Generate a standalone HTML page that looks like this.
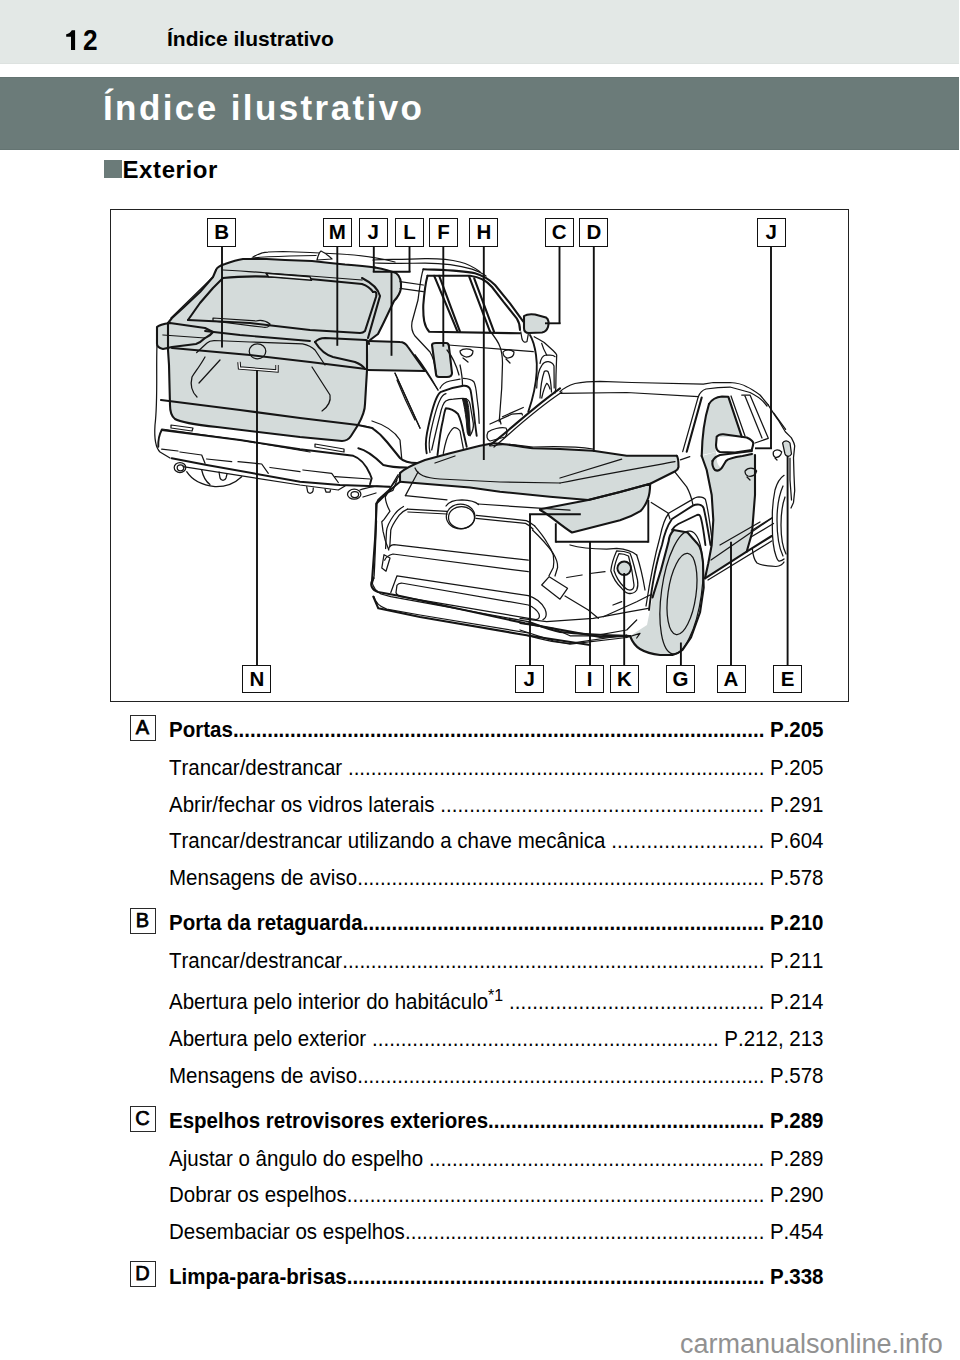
<!DOCTYPE html>
<html><head><meta charset="utf-8">
<style>
*{margin:0;padding:0;box-sizing:border-box}
html,body{width:960px;height:1360px;background:#fff;overflow:hidden}
body{position:relative;font-family:"Liberation Sans",sans-serif;color:#000;font-kerning:none}
.abs{position:absolute;white-space:nowrap}
#hbar{position:absolute;left:0;top:0;width:959px;height:64px;background:#e3e8e6;border-bottom:1px solid #dde2e0}
#pnum{left:83.2px;top:24.3px;font-size:29.8px;font-weight:bold;line-height:32px;transform:scaleX(0.88);transform-origin:0 0}
#htitle{left:167px;top:26.5px;font-size:21px;font-weight:bold;line-height:24px}
#tbar{position:absolute;left:0;top:77px;width:959px;height:73px;background:#6b7b79;border-top:1px solid #647472;border-bottom:1px solid #647472}
#title{left:103px;top:87.5px;font-size:35px;font-weight:bold;color:#fff;letter-spacing:2.4px;line-height:40px}
#sq{position:absolute;left:104px;top:160px;width:18px;height:18px;background:#6b7b79}
#ext{left:122.5px;top:156px;font-size:24px;font-weight:bold;line-height:28px;letter-spacing:0.6px}
#box{position:absolute;left:110px;top:209px;width:739px;height:493px;border:1.4px solid #222}
.lb{position:absolute;width:29px;height:28.8px;border:1.8px solid #111;background:#fff;font-weight:bold;font-size:20.5px;line-height:26.4px;text-align:center}
.sl{position:absolute;left:129.5px;width:26px;height:26px;border:1.3px solid #2a2a2a;font-size:20px;line-height:23.5px;text-align:center;font-weight:normal;-webkit-text-stroke:0.75px #000}
.row{position:absolute;left:169px;width:654.5px;display:flex;font-size:20.5px;line-height:24px;white-space:nowrap}
.row .t{flex:none}
.row .d{flex:1 1 auto;overflow:hidden;text-align:right}
.row .p{flex:none;padding-left:5.56px}
.row.b{font-weight:bold}
.row{transform:scaleY(1.06);transform-origin:0 19.1px}
sup{font-size:16px;line-height:0;vertical-align:8px}
#wm{left:680px;top:1327.5px;font-size:27px;color:#919191;line-height:32px}
</style></head><body>
<div id="hbar"></div>
<svg style="position:absolute;left:0;top:0" width="100" height="60" viewBox="0 0 100 60"><path d="M66.2,34.3 C68.5,33.6 70.5,32.6 71.8,30.2 L75.1,30.2 L75.1,50 L71,50 L71,36.7 L66.2,36.7 Z" fill="#000"/></svg>
<div class="abs" id="pnum">2</div>
<div class="abs" id="htitle">Índice ilustrativo</div>
<div id="tbar"></div>
<div class="abs" id="title">Índice ilustrativo</div>
<div id="sq"></div>
<div class="abs" id="ext">Exterior</div>
<div id="box"></div>
<!--CAR-->
<svg id="car" style="position:absolute;left:0;top:0" width="960" height="720" viewBox="0 0 960 720">
<!-- REAR CAR grey fills -->
<g fill="#d4dbda" stroke="none">
<!-- tailgate + glass + spoiler -->
<path d="M216,270 C217,267 220,265.5 225,264 C232,261.5 238,259.8 243,259 L266.7,259 L285,260 L312,261 L345,264.5 C358,265.5 368,266.5 375,267.5 C385,269.5 392,271.5 396,273 L399,277 C402,285 399,292 394,301 L383,324 C379,332 376,336 372,340 L367,341 L368,370 L365,410 L358,425 L350,438 L342,441 L300,437 L217,427 L180,422 L172,415 L170,405 L169,350 L160,349 L157,344 L156,328 L168,323 L183,308 L200,292 L213,277 Z"/>
<!-- side taillight -->
<path d="M369,341 L400,342 L405,343 C410,350 416,358 425,371 L367,370 Z"/>
<!-- fuel door -->
<path d="M432,345 C432,343 434,343 436,343 L446,343 C448,343 449,345 449,347 L452,373 C452,376 450,377 447,377 L439,377 C437,377 436,376 436,374 Z"/>
</g>
<g fill="none" stroke="#151515" stroke-linejoin="round" stroke-linecap="round">
<!-- thick outlines -->
<g stroke-width="2.1">
<path d="M216,270 C217,267 220,265.5 225,264 C232,261.5 238,259.8 243,259 L266.7,259 L285,260 L312,261 L330,263 L345,264.5 C358,265.5 368,266.5 375,267.5"/>
<path d="M216,270 L213,277 L200,292 L183,308 L172,318 L168,323"/>
<path d="M223,278 C240,276 260,276 280,277 L310,279 L362,284 C368,286 371,289 373,292"/>
<path d="M223,278 L213,288 L200,303 L188,320"/>
<path d="M188,320 L250,323 L310,330 L360,333 C363,333 364,332 365,331 L376,297 C377,293 376,291 373,292"/>
<path d="M168,323 L168,350 L169,365 L170,405 C170,412 171,416 175,419 C180,422 190,424 217,427 L300,437 L342,441 C346,441 349,439 351,436 L358,425 C363,416 365,410 365,404 L367,370 L367,341"/>
<path d="M161,400 L240,410 L300,418 L358,425 L372,428 C378,432 383,437 387,442 L400,458 C404,462 410,463 417,463"/>
<!-- left taillight -->
<path d="M157,327 C159,325 163,324 170,323 L205,328 L213,332 C210,336 207,337 205,338 C202,341 199,343 196,344 L172,347 L163,349 C159,348 157,346 157,344 Z"/>
<path d="M205,331 L240,335 L310,341" stroke-width="1.9"/>
<path d="M172,348 L250,355 L310,362 L366,369"/>
<!-- right taillight M -->
<path d="M315,342 C318,339 321,338 325,338 L366,340 C368,341 369,342 369,344"/>
<path d="M315,342 C320,350 326,355 333,357 L355,362 C360,364 363,366 365,369"/>
<path d="M369,341 L400,342 C404,342 406,344 408,347 L425,371 L367,370"/>
<!-- D pillar right boundary -->
<path d="M375,267.5 C385,269.5 392,271.5 396,273 C400,276 401.5,281 401,288 C400,294 398,297 394,301 L383,324 L378,334 L370,340"/>
<path d="M362,278 C372,283 378,288 380,296 L368,338"/>
</g>
<g stroke-width="1.25">
<path d="M253,257 C258,254 262,252 268,252 L283,251.5 L310,252.5 L340,254 C360,255 375,257 395,262"/>
<path d="M223,270 C240,271 255,272 267,273 L310,276 L362,280"/>
<path d="M252,258 C262,257 275,256.5 290,256 L316,255.5"/>
<path d="M196.7,352.5 L207,343 C209,341 211,340.5 214,340.5 L250,342 L302.5,343.8 C308,345 312,347 315,350 L325,365"/>
<path d="M163,335 L205,338"/>
<path d="M171,318 L213,277"/>
<path d="M157,345 C156,370 158,400 155,425 C154,440 156,448 160,452 L170,458"/>
<path d="M205,357 C200,366 195,372 192,377 C190,385 192,392 197,397"/>
<path d="M220,360 L199,383"/>
<path d="M312,367 L330,395 C331,401 329,406 322,411"/>
<path d="M395,373 L420,428"/>
<path d="M415,355 L438,390"/>
<path d="M162,429 L240,440 L310,452"/>
<path d="M171,425 L193,428 L192,431 L171,428 Z"/>
<path d="M315,444 L344,449 L344,452 L315,447 Z"/>
</g>
<path d="M266,273.3 L310,276.8 L311.5,280.2 L268.5,276.8 Z" fill="#eef1f0" stroke-width="1.5"/>
<!-- emblem -->
<ellipse cx="257.5" cy="351.3" rx="8.3" ry="7.5" stroke-width="1.25"/>
<!-- wiper -->
<path d="M213,318 L256,321 C260,320 266,321 270,324 C270,327 266,328 262,327 L213,321 Z" stroke-width="1.25"/>
<!-- antenna -->
<path d="M317,260 C318,256 319,252 321,251 C325,253 329,256 332,259 Z" fill="#fff" stroke-width="1.25"/>
</g>
<!-- license bracket -->
<path d="M239,362 L239.5,368 L277,371 L277,365" fill="none" stroke="#111" stroke-width="3.4"/>
<path d="M239,362 L239.5,368 L277,371 L277,365" fill="none" stroke="#fff" stroke-width="1.4"/>
<!-- REAR CAR SIDE (white body) -->
<g fill="#d4dbda" stroke="none">
<!-- mirror of rear car -->
<path d="M524,316 C527,314 531,314 535,314.5 L546,317.5 C549,319 549,324 548,327 C547,330 545,332 542,332.5 L529,333 C526,333 524,331 524,328 Z"/>
</g>
<g fill="none" stroke="#151515" stroke-linejoin="round" stroke-linecap="round">
<g stroke-width="1.25">
<!-- roof rails -->
<path d="M373,260 C385,259 400,260 425,258.7 C440,258.5 450,259.5 460,262 C468,264 475,268 480,271.7"/>
<path d="M375,263 C390,263.5 400,264 425,263 C445,263 460,265.5 472,269.2 C477,271 482,273 486,276"/>
<!-- spoiler side extension lines -->
<path d="M400,281.7 L423.3,285"/>
<path d="M400,288.3 L423.3,291.7"/>
<!-- outer window frame left -->
<path d="M423.3,269.2 C421,275 420,285 418,300 L412,322 C411,328 412,332 415,336 L430,352 C433,357 435,365 436,372"/>
<!-- character line -->
<path d="M448.3,345 L533.3,351.7"/>
<!-- rear door rear edge -->
<path d="M447,350 C452,356 456,364 459,375"/>
<!-- rear door front edge -->
<path d="M490,331 C494,336 498,341 500,346.7 C502,352 502.5,358 502.5,363.3 L501.7,388.3 L499.2,421.7"/>
<!-- body line lower rear -->
<path d="M395,373.3 L420,428.3"/>
<path d="M415,355 C423,365 430,376 438,390"/>
<!-- rear wheel arch of rear car -->
<path d="M440,388.3 C442,384 445,382 450,381 L460,379.2"/>
<path d="M463.3,378.3 C468,378.5 472,379.5 474,382 C476,386 476.5,393 477,398 L478.5,410 L479.2,423.3"/>
<path d="M426.7,453.3 C425.5,447 425.5,441 427,433 C430,418 433,405 437,397 C439,393 440.5,392 441.7,391.7 C448,389 455,387 463.3,385.8 C467,385.5 469.5,387 470.5,390 C472,397 473.5,410 475,423 L476.7,435.8" stroke-width="1.9"/>
<path d="M430,452.5 C428.5,446 429,440 430.5,433 C433.5,419 436.5,407 440,400 C441.5,396.5 443,394.5 446,393.6"/>
<path d="M431.7,450 C434,440 437,427 440,415 C441.5,408 443,403 445.8,401 C448,399.7 451,399.3 453.3,399.2 C458,398.6 462,398.2 465,398.5 C468,399 469.5,401 470,404 L473.3,423.3 C473.8,428 472.5,432 470,435.8"/>
<path d="M437.5,455 C439,442 441,428 443,420 C444,414 445,410 445.8,408.3 C450,408.5 454,410 458,414 C460,418 462,425 463.3,431.7 L466.7,446.7" stroke-width="1.9"/>
<path d="M443.3,453.3 C445,444 447,436 450,432 C452,429 453,428 454.2,427.5 C456.5,427.5 458.5,428.5 460,431 L463.3,448.3"/>
<path d="M462.5,399 C464.3,406 465.3,413 466.2,420 L467.2,432 C467.5,434 468.2,435.5 469,436 C470,435.5 470.3,434 470.2,432 L469,412 C468.5,405 467.5,401 466.5,398.8 Z" fill="#1a1a1a" stroke-width="1"/>
<path d="M460,365 C461.5,372 462.5,379 462.5,385.8"/>
<!-- rear car front fender / wheel -->
<path d="M530,335 C533,340 535,348 536,355 C537,362 537,367 536.7,371.7 C536,385 533,398 528.3,411.7" stroke-width="1.9"/>
<path d="M534.2,336.7 C538,339 541,340.5 544.2,342.5 L553.3,350.8 C555,352.5 556,353.5 556.7,355 L556,375 L555.8,388.3 L555,393"/>
<path d="M540,363.3 C541,358 543,355.5 546,355 L550,355 C552,355 554,355.5 555,356.7"/>
<path d="M536.7,388 C537,377 539,369 542,365 C544,362 546,361.5 548.3,361.7 C551,362 553,363.5 554,366 L554.2,388"/>
<path d="M540,398 C540.5,388 542,378 544.2,371.7 C545,370.5 547,370.5 548,371.5 C550,376 551,382 551.5,392"/>
<path d="M541.7,398 C543,392 544.5,387 546.7,383.3 C548,384 549,386 550,389"/>
<path d="M541.7,343.3 C543,348 545,352 546.7,355"/>
<path d="M520.8,332 L522,339 C523,342 525,343 527,341.5 L528.3,334"/>
<!-- rear car sill -->
<path d="M502.5,416.7 L523.3,407.5"/>
<path d="M490,424 L511.7,414.2 L521.7,413.3 L522.5,415"/>
<path d="M500,420 L501,424"/>
<!-- door handles -->
<path d="M460,351 C463,348 470,348 473,351 C473,355 470,357 466,357 C462,356 460,354 460,351 Z M463,358 L468,362"/>
<path d="M503,352 C505,349 511,349 514,352 C514,356 511,358 507,358 C504,357 503,355 503,352 Z M506,359 L510,363"/>
</g>
<g stroke-width="2.1">
<!-- window frame top -->
<path d="M423.3,269.2 C440,270 460,270 475,273.3 C484,276 490,280 495,285 L510,303.3 L523.3,321.7"/>
<!-- windows -->
<path d="M427.5,275.8 L470,275.8 C480,277 487,281 492,287 L503.3,301.7 L516.7,318.3 C519,322 520,326 520,330"/>
<path d="M427.5,275.8 C425,285 424,296 423.3,305 C423,318 424,326 429.2,331.7 L520,333.3"/>
<path d="M434.2,275.8 L457.5,331.7"/>
<path d="M439.2,275.8 L460,331.7"/>
<path d="M469.2,276.7 L490,331.7"/>
<path d="M474.2,278.3 L494,331.7"/>
<!-- mirror outline -->
<path d="M524,316 C527,314 531,314 535,314.5 L546,317.5 C549,319 549,324 548,327 C547,330 545,332 542,332.5 L529,333 C526,333 524,331 524,328 Z"/>
<!-- fuel door -->
<path d="M432,345 C432,343 434,343 436,343 L446,343 C448,343 449,345 449,347 L452,373 C452,376 450,377 447,377 L439,377 C437,377 436,376 436,374 Z"/>
</g>
</g>

<!-- FRONT CAR -->
<g fill="#d4dbda" stroke="none">
<!-- hood -->
<path d="M400,473 C405,468 412,465 425,460 L450,453.3 L480,445.8 L493,443.3 L533,448.3 L560,449 L593,450.8 L626.7,455.8 L676.7,455.8 C678,457 678.5,460 678.5,467 C678,469.5 677,470.5 675.2,471.3 L650.2,483.8 L620,492 L588.3,500 L550,496.7 L500,491.7 L470,487.5 L400,481.7 Z"/>
<!-- headlight -->
<path d="M540,509.2 L588.3,500 L620,492 L650.2,483.8 C650,490 649.5,495 648.1,498.3 C646,504 643.5,508 640.8,510.8 C634,515 627,518 620,520.2 L572,532.5 C560,525 550,515 540,510 Z"/>
<!-- front door window -->
<path d="M709,404 C712,399 716,397 722,396.5 L728.3,396.7 L741.7,436.7 L717,437 C715,440 715,447 716,452 L701.7,455 C702,440 704,420 709,404 Z"/>
<!-- front door panel + rocker -->
<path d="M701.7,456 L716,452 L717,462 C720,470 724,470 727,460 L740,457 L752,452 L755,455 L755,470 L755,495 L752,533 L746.7,551.7 L708.3,576 L705,578.3 L708,563 L711.7,545 L713.3,520 L711.7,495 L706.7,470 Z"/>
<!-- tire -->
<path d="M630,636 C632,641 635,646 640,649 C645,652 650,654 660,655 L672.5,655 C677,654 680,652 682.5,650 L691,637.5 L700,612.5 L703.7,587.5 L703,562.5 C702,552 700,546 697.5,543.7 L687.5,532.5 L673.7,530 C671,533 669,537 668.7,541 L661,570 L652.5,597.5 L650,610 L647,625 Z"/>
<!-- fog light -->
<circle cx="624.2" cy="568.3" r="6.6"/>
<!-- E small light -->
<path d="M782.6,443 C784,440 788,440 790,443 L791.5,454 C790,457 786,457 785,454 Z"/>
</g>
<g fill="none" stroke="#151515" stroke-linejoin="round" stroke-linecap="round">
<g stroke-width="2.1">
<!-- hood outline -->
<path d="M400,481.7 L400,473 C405,468 412,465 425,460 L450,453.3 L480,445.8 L493,443.3"/>
<path d="M400,481.7 L470,487.5 L500,491.7 L550,496.7 L588.3,500 L620,492 L650.2,483.8 L675.2,471.3 C677,470.5 678,469.5 678.5,467 C678.5,460 678,457 676.7,455.8"/>
<path d="M493,443.3 C510,444 520,447 533,448.3 L560,449 L593,450.8 L626.7,455.8 L676.7,455.8"/>
<!-- headlight -->
<path d="M540,509.2 L588.3,500 L620,492 L650.2,483.8 C650,490 649.5,495 648.1,498.3 C646,504 643.5,508 640.8,510.8 C634,515 627,518 620,520.2 L572,532.5 C560,525 550,515 540,510 Z"/>
<!-- windshield / A pillars -->
<path d="M490,445 C510,430 530,410 560,388.3"/>
<path d="M686.7,451.7 L701.7,397.5"/>
<!-- front door -->
<path d="M709,404 C712,399 716,397 722,396.5 L728.3,396.7 L741.7,436.7"/>
<path d="M701.7,456 C702,440 704,420 709,404"/>
<path d="M701.7,456 L706.7,470 L711.7,495 L713.3,520 L711.7,545 L708.3,563.3 L705,578.3"/>
<path d="M755,455 L755,495 L752,533 L746.7,551.7"/>
<path d="M705,578.3 L746.7,551.7 L771.7,536"/>
<!-- mirror front car -->
<path d="M716.7,436.7 C718,435 720,434 723.3,434.2 L746.7,437.5 C750,439 753,441 753.3,443.3 C753,446 752,449 751.7,450 L735,452.5 L720,452 C717,451 716,448 716,445 Z"/>
<path d="M712.5,461 C712,465 713,468 715,470 C718,471.5 721,470 723,466 L726,461 C728,458.5 732,457.5 742.5,456 L752,454"/>
<path d="M712.5,461 C714,458 717,456 720,455 L752,451"/>
<!-- tire outline -->
<path d="M630,636 C632,641 635,646 640,649 C645,652 650,654 660,655 L672.5,655 C677,654 680,652 682.5,650 L691,637.5 L700,612.5 L703.7,587.5 L703,562.5 C702,552 700,546 697.5,543.7 L687.5,532.5 L673.7,530 C671,533 669,537 668.7,541 L661,570 L652.5,597.5"/>
<!-- front bumper left & lower -->
<path d="M376.7,503.3 C385,495 392,488 400,481.7"/>
<path d="M376.7,503.3 L375,540 L372,581"/>
<path d="M372,581 C370,585 372,590 378,592 L400,596 L525,623.3 L600,637 L630,636"/>
<path d="M373.3,596.7 L378.3,608.3 L420,617 L525,635 L590,645"/>
<!-- emblem -->
</g>
<g stroke-width="1.25">
<!-- roof front car -->
<path d="M560,391.7 C565,387 570,385 575,383.5 C585,381.5 593,381.3 600,381.3 L631.7,382.5 L703.3,384.2 L713.3,382.5 L730,382.5 C738,383 743,384.5 746.7,386.7 C752,389 756,392 760,395 L768.3,405"/>
<path d="M560,393.3 L626.7,392.5 L698.3,396.7"/>
<path d="M698.3,396.7 C700,392 703,390 706,389 C712,388 720,387 730,387 L750,392.5 C755,395 760,398 763.3,401.7 L767,406"/>
<path d="M682.7,451.7 L698.3,396.7"/>
<path d="M494,447 C512,432 532,412 562,392"/>
<!-- hood creases -->
<path d="M560,478 L621.7,459.2"/>
<path d="M560,483 C600,475 640,468 675,461.7"/>
<path d="M415,468 C418,475 425,478 440,479 L500,482 L560,483"/>
<path d="M435,463 L455,456"/>
<!-- wiper area -->
<path d="M490,446 C510,442 520,446 533,447 C560,446 580,447 593,449"/>
<!-- far mirror -->
<path d="M488,432 C492,429 500,427 506,428 C508,431 507,435 505,437 L490,441 C487,440 486,436 488,432 Z"/>
<!-- grille -->
<path d="M405.4,495.6 L447,499.8"/>
<path d="M478.3,504 L570,510.2"/>
<path d="M407.5,509.2 L447,511.3"/>
<path d="M476.3,515.4 L526.3,520.6 C530,522 532,524 534.6,525.8"/>
<path d="M408,512 L447,514"/>
<path d="M476,518.4 L525.5,523.4 C529,525 531,527 533,529"/>
<path d="M407.5,509.2 C403,511 401,513 399,515.4 C395,521 392,525 390.8,530 L389.8,546.7"/>
<path d="M403.5,506.5 C399,509 396,512 394,515 C389,522 387,526 386.5,531 L385.6,548.5"/>
<path d="M534.6,525.8 C540,532 544,537 547,542.5 C550,547 552,551 553.3,555 C554,560 554,564 553.3,567.5 L549,575.8"/>
<path d="M532.5,530 C540,537 548,546 553,553 C556,558 558,563 557.6,567.5 L555,576"/>
<path d="M388.8,548.8 C389,546.5 391,545 394,544.6 L528.3,560.2"/>
<path d="M384.6,560.2 C386,557 389,555 393,554 L528.3,571.7"/>
<path d="M390.8,592.5 L397,575.8 L528.3,595.6 C536,598 542,603 545,609 C547,614 546,618 543,619.6"/>
<path d="M396,592.5 L397,585.2 C398,583.5 399.5,583 401.3,583 L528.3,605 C533,607 537,610 539,614 C540,617 539,619 536,619.6 L401,596.7 C398,596 396.5,594.5 396,592.5"/>
<path d="M372,582 C373,587 376,591 381,594 L390.8,596.7 L528.3,621.7"/>
<path d="M374,596.7 C375,602 378,606 386.7,609.2 L420,615 L528.3,633"/>
<path d="M418,472 L405.4,495.6"/>
<path d="M372,582 L374.2,578"/>
<path d="M378.3,500.8 C381,496 388,492 393,490.4 L397,480"/>
<path d="M400.6,473.5 L395.9,480.6 L391.2,486.5 L385.3,497 C385.5,501 386.5,505 390,511.2 L384.1,519.4 L381.8,521.8 L383,531.2 L385.3,540.6 L388.8,550"/>
<path d="M384,554.7 L390,558 L386,571.2 L381.8,568 Z"/>
<path d="M446,506 C449,501.5 455,499.8 462,499.8 C470,500 476,502 478.5,504.5"/>
<ellipse cx="460.6" cy="516.5" rx="14.3" ry="12.3"/>
<ellipse cx="461.5" cy="517.5" rx="13" ry="11"/>
<!-- right bumper / fog -->
<!-- right bumper new -->
<path d="M541.7,585 L549.2,576.7 L567.5,588.3 L560,599.2 Z"/>
<path d="M565,596 L588.3,610 L598.3,618.3"/>
<path d="M566.7,577.5 L582,575"/>
<path d="M590,573.5 L605,571.7"/>
<path d="M570,545 C580,548 590,549 606.7,549.2 L616.7,548.3 C625,549 632,551 636.7,555"/>
<path d="M616.7,550.8 C614,557 611.5,564 610.8,570.8 C613,578 617,584 621.7,588.3 C624,591 626,593 628.3,593.3 C632,594 635,592.5 636.7,590 C638,587 638,583 637.5,580 C635,570 633,560 630,553.3 C626,551.5 621,550.8 616.7,550.8 Z"/>
<path d="M619,553.5 C616.5,559 614.5,565 614,570.5 C616,577 620,583 624,587 C626,589 628,590 630,590 C632.5,590 634,588 634,585 C633,575 631,565 628.5,556 C625.5,554.3 622,553.5 619,553.5 Z"/>
<path d="M636.7,555 C640,565 643,578 645,590"/>
<path d="M603.3,616.7 L636.7,601.7 L650,595"/>
<path d="M613,605 L621.7,601.7"/>
<path d="M520,618.3 L546.7,621.7 L593.3,618.3 L630,611.7 L648.3,608.3"/>
<path d="M520,623.3 L553.3,628.3 L570,635.8 L593.3,635.8 L626.7,630 L636.7,620"/>
<path d="M520,630 L553.3,640.8 L570,644.2 L626.7,637.5"/>
<path d="M626.7,637.5 L640,633.3 L636.7,638"/>
<!-- wheel arch front -->
<path d="M646,606 C650,580 655,555 660,537 C662,527 665,518 669,513 L690.8,500.4 C694,498 697,496.8 699,496.8 C702.5,497 704.5,498 705.4,499.4 C707,505 709,515 712,540"/>
<path d="M649,610 C652,585 657,560 662,545 C664,535 667,526 672,519 L692.9,505.6 C695,504.6 697.5,504.3 699.2,504.6 C701.5,505 703,506 703.6,508 C705.5,515 707.5,527 710.5,545" stroke-width="1.9"/>
<path d="M672,530 C673.5,527 675.5,525.5 678.3,524 L697,515 C698.5,514.5 699.8,515 700.4,516.5 C702,521 703.5,530 705.4,545" stroke-width="1.9"/>
<path d="M651.25,502.5 L668,513 L670,519"/>
<path d="M675.2,472.3 L686.7,486.9 C689,491 691,495 692.9,504.6"/>
<path d="M680.4,459.8 L689.8,456.7"/>
<!-- tire sidewall -->
<ellipse cx="681.5" cy="592.5" rx="20" ry="62" transform="rotate(8 681.5 592.5)"/>
<ellipse cx="682" cy="594" rx="14" ry="41" transform="rotate(8 682 594)"/>
<!-- side skirt -->
<path d="M708,580 L771.7,541"/>
<path d="M711,560 L771.7,518.3"/>
<path d="M720,545 L760,522"/>
<!-- rear of front car -->
<path d="M768.3,405 C772,411 775,416 778.2,420 L785.3,431.8 L791.2,437.6 C793,441 794.5,443 794.7,445.9 L793.5,457.6 L794,475 L794.7,490.6 L793.5,502.4 L791,508"/>
<path d="M790,458 L790,480 L791.5,500"/>
<path d="M784.1,475.3 C780,478 777,483 775,490 C773,500 772,510 772.4,520 C772,535 773,548 776,556 C777,559 778,561 779.4,561.2 C781,561 783,560 784,559"/>
<path d="M783,486 C779,495 777,507 777,520 C777,535 779,548 783,556"/>
<path d="M785,497 C782,505 781,515 781,525 C781,538 783,548 786,554"/>
<path d="M752.4,549.4 C753,555 754,560 757,563 C760,565 765,566 775.9,566.5 C780,566 783,564 784,562"/>
<path d="M751,531 L772.4,517.6"/>
<path d="M751,537 L773.5,523.5"/>
<path d="M773.8,413.2 L785.6,429.4"/>
<!-- front door window frame lines -->
<path d="M741.7,395 L750,395 L768.3,438.3 L755,443"/>
<path d="M731,396 L745,436"/>
<path d="M745,396 L762,438"/>
<!-- door handles front car -->
<path d="M745,471 C748,467 754,467 756.7,471 C756,475 752,477 748,476 C745,475 745,473 745,471 Z M747,477 L750,480"/>
<path d="M773.3,452 C775,449 779,449 781.7,452 C781,456 778,458 775,457 C773,456 773,454 773.3,452 Z M775,458 L777,460"/>
<!-- E light outline -->
<path d="M782.6,443 C784,440 788,440 790,443 L791.5,454 C790,457 786,457 785,454 Z"/>
</g>
</g>
<!-- REAR CAR BUMPER etc -->
<g fill="none" stroke="#151515" stroke-linejoin="round" stroke-linecap="round">
<g stroke-width="1.9">
<path d="M161.7,430 C159,435 158,440 158.3,446.7"/>
<path d="M161.7,430 L240,440 L300,449.2 L353.3,455.8 C360,458 366,465 370,474 L371.7,478.3 L370,484.2"/>
<path d="M171.7,458.3 L206.7,465 L300,481.7 L340,485 L390,486.7"/>
<path d="M358.3,448.3 C366,450 373,455 383.3,465 C390,467 398,467.5 406.7,467.5"/>
</g>
<g stroke-width="1.25">
<path d="M161.7,449.2 L178,451"/>
<path d="M180,452 L201.7,455 L205,463.3"/>
<path d="M206.7,459 L231.7,461.7"/>
<path d="M238,461.7 L261.7,464 L268.3,473.3"/>
<path d="M270,467.5 L300,471.7"/>
<path d="M303,470 L331.7,473.3 L338.3,482.5"/>
<path d="M335,476.7 L370,479"/>
<path d="M183,466.7 L300,485 L338.3,490 L345,486"/>
<ellipse cx="180" cy="467.5" rx="5.8" ry="5"/>
<ellipse cx="180.5" cy="467.8" rx="3.3" ry="3"/>
<ellipse cx="354.2" cy="494.2" rx="6.7" ry="5"/>
<ellipse cx="354.8" cy="494.5" rx="3.8" ry="3"/>
<path d="M186.7,471.7 C192,480 200,485 215,486.7 C225,487 235,483 241.7,476.7"/>
<path d="M201.7,470 C203,476 205,481 210,484.5"/>
<path d="M219,472 L220,478 C221,481 225,481 226,478 L227,474"/>
<path d="M306.7,486.7 L307.5,491 C308,494 312,494 313,491 L313.3,488"/>
<path d="M325,489 L326,492 L330,492 L330.5,490"/>
<path d="M360,490 C365,488 372,487 377,486 L390,487"/>
<path d="M363,497 L376,493"/>
<path d="M356.7,425 C365,426 370,427 373.3,428.3"/>
<path d="M372,421 C385,425 395,432 400,440 L401.7,458.3"/>
<path d="M397,380 C403,395 410,410 415,420"/>
</g>
</g>
<!-- FRONT CAR extra -->
<g fill="none" stroke="#151515" stroke-linejoin="round" stroke-linecap="round">
<g stroke-width="1.9">
<path d="M398.2,474.7 C395,480 392,485 390,488.8 L378.2,499.4 L375.9,504.1 L375.9,517 L376.5,521 L374.7,564.1 L374.1,575.9 L372.4,583" stroke-width="1.3"/>
<path d="M528.3,621.7 C540,626 550,630 560,632 C580,634 600,635 630,636"/>
</g>
<g stroke-width="1.25">
<path d="M525,635 C545,640 555,643 570,643.3 L626.7,635"/>
</g>
</g>
<circle cx="624.2" cy="568.3" r="6.8" fill="none" stroke="#151515" stroke-width="1.9"/>

</svg>
<!--/CAR-->
<!--LABELS-->
<svg style="position:absolute;left:0;top:0" width="960" height="720" viewBox="0 0 960 720"><g stroke="#111" stroke-width="1.9" fill="none" stroke-linecap="butt">
<line x1="222" y1="246" x2="222" y2="347.5"/>
<line x1="337.3" y1="246" x2="337.3" y2="345.8"/>
<line x1="373.8" y1="246" x2="373.8" y2="272"/>
<line x1="409.5" y1="246" x2="409.5" y2="272"/>
<line x1="372.8" y1="271.7" x2="410.5" y2="271.7"/>
<line x1="391.5" y1="271.7" x2="391.5" y2="355.8"/>
<line x1="443.3" y1="246" x2="443.3" y2="346.7"/>
<line x1="483.8" y1="246" x2="483.8" y2="460"/>
<line x1="559.5" y1="246" x2="559.5" y2="324"/>
<line x1="545" y1="323.3" x2="560.5" y2="323.3"/>
<line x1="593.8" y1="246" x2="593.8" y2="451.7"/>
<line x1="771" y1="246" x2="771" y2="449"/>
<line x1="755" y1="448.3" x2="772" y2="448.3"/>
<line x1="257" y1="665" x2="257" y2="370"/>
<line x1="530" y1="665" x2="530" y2="514.2"/>
<line x1="529" y1="514.2" x2="580.8" y2="514.2"/>
<line x1="590" y1="665" x2="590" y2="541.7"/>
<line x1="555.8" y1="541.7" x2="648.3" y2="541.7"/>
<line x1="555.8" y1="523.3" x2="555.8" y2="542.7"/>
<line x1="648.3" y1="500" x2="648.3" y2="542.7"/>
<line x1="624.2" y1="665" x2="624.2" y2="573"/>
<line x1="680.9" y1="665" x2="680.9" y2="642.5"/>
<line x1="731" y1="665" x2="731" y2="541.7"/>
<line x1="787.6" y1="665" x2="787.6" y2="455.9"/>
</g></svg>
<div class="lb" style="left:207.1px;top:217.8px">B</div>
<div class="lb" style="left:322.9px;top:217.8px">M</div>
<div class="lb" style="left:358.8px;top:217.8px">J</div>
<div class="lb" style="left:394.9px;top:217.8px">L</div>
<div class="lb" style="left:428.9px;top:217.8px">F</div>
<div class="lb" style="left:469.3px;top:217.8px">H</div>
<div class="lb" style="left:544.6px;top:217.8px">C</div>
<div class="lb" style="left:579.3px;top:217.8px">D</div>
<div class="lb" style="left:756.8px;top:217.8px">J</div>
<div class="lb" style="left:242.3px;top:664.6px">N</div>
<div class="lb" style="left:514.8px;top:664.6px">J</div>
<div class="lb" style="left:575.0px;top:664.6px">I</div>
<div class="lb" style="left:609.8px;top:664.6px">K</div>
<div class="lb" style="left:666.1px;top:664.6px">G</div>
<div class="lb" style="left:716.5px;top:664.6px">A</div>
<div class="lb" style="left:773.0px;top:664.6px">E</div>
<!--/LABELS-->
<!--LIST-->
<div class="sl" style="top:715.4px">A</div>
<div class="sl" style="top:907.8px">B</div>
<div class="sl" style="top:1105.75px">C</div>
<div class="sl" style="top:1261.4px">D</div>
<div class="row b" style="top:717.96px"><span class="t">Portas</span><span class="d" style="letter-spacing:0.019px">.............................................................................................</span><span class="p">P.205</span></div>
<div class="row " style="top:755.70px"><span class="t">Trancar/destrancar&nbsp;</span><span class="d" style="letter-spacing:0.009px">.........................................................................</span><span class="p">P.205</span></div>
<div class="row " style="top:792.80px"><span class="t">Abrir/fechar os vidros laterais&nbsp;</span><span class="d" style="letter-spacing:0.093px">........................................................</span><span class="p">P.291</span></div>
<div class="row " style="top:829.00px"><span class="t">Trancar/destrancar utilizando a chave mecânica&nbsp;</span><span class="d" style="letter-spacing:0.197px">..........................</span><span class="p">P.604</span></div>
<div class="row " style="top:865.80px"><span class="t">Mensagens de aviso</span><span class="d" style="letter-spacing:0.040px">.......................................................................</span><span class="p">P.578</span></div>
<div class="row b" style="top:910.75px"><span class="t">Porta da retaguarda</span><span class="d" style="letter-spacing:0.042px">......................................................................</span><span class="p">P.210</span></div>
<div class="row " style="top:948.60px"><span class="t">Trancar/destrancar</span><span class="d" style="letter-spacing:0.008px">..........................................................................</span><span class="p">P.211</span></div>
<div class="row " style="top:990.10px"><span class="t">Abertura pelo interior do habitáculo<sup>*1</sup>&nbsp;</span><span class="d" style="letter-spacing:0.109px">............................................</span><span class="p">P.214</span></div>
<div class="row " style="top:1027.15px"><span class="t">Abertura pelo exterior&nbsp;</span><span class="d" style="letter-spacing:0.086px">............................................................</span><span class="p">P.212, 213</span></div>
<div class="row " style="top:1063.70px"><span class="t">Mensagens de aviso</span><span class="d" style="letter-spacing:0.040px">.......................................................................</span><span class="p">P.578</span></div>
<div class="row b" style="top:1108.50px"><span class="t">Espelhos retrovisores exteriores</span><span class="d" style="letter-spacing:0.060px">................................................</span><span class="p">P.289</span></div>
<div class="row " style="top:1146.50px"><span class="t">Ajustar o ângulo do espelho&nbsp;</span><span class="d" style="letter-spacing:0.088px">..........................................................</span><span class="p">P.289</span></div>
<div class="row " style="top:1182.90px"><span class="t">Dobrar os espelhos</span><span class="d" style="letter-spacing:0.024px">.........................................................................</span><span class="p">P.290</span></div>
<div class="row " style="top:1219.65px"><span class="t">Desembaciar os espelhos</span><span class="d" style="letter-spacing:0.009px">...............................................................</span><span class="p">P.454</span></div>
<div class="row b" style="top:1264.70px"><span class="t">Limpa-para-brisas</span><span class="d" style="letter-spacing:0.024px">.........................................................................</span><span class="p">P.338</span></div>
<!--/LIST-->
<div class="abs" id="wm">carmanualsonline.info</div>
</body></html>
